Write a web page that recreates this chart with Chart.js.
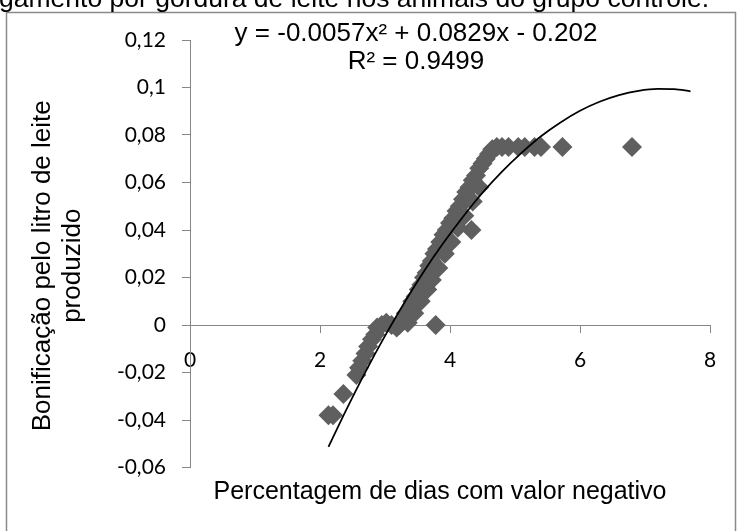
<!DOCTYPE html>
<html><head><meta charset="utf-8">
<script src="https://cdn.jsdelivr.net/npm/chart.js@4.4.0/dist/chart.umd.min.js"></script>
<style>html,body{margin:0;padding:0;background:#fff;}#wrap{position:relative;width:737px;height:531px;overflow:hidden;}canvas{display:block;}</style>
</head><body><div id="wrap"><canvas id="c" width="737" height="531"></canvas></div>
<script>
const pointX = [2.13,2.2,2.36,2.56,2.6,2.65,2.7,2.74,2.8,2.85,2.88,2.95,3.02,3.1,3.18,3.22,3.28,3.32,3.38,3.42,3.47,3.52,3.56,3.6,3.64,3.68,3.72,3.76,3.8,3.85,3.9,3.95,4.0,4.05,4.1,4.15,4.2,4.25,4.3,4.35,4.4,4.45,4.5,4.55,4.6,4.65,4.72,4.8,4.9,5.05,5.15,5.3,5.4,5.73,6.8,3.78,4.33,3.35,3.45,3.55,3.65,3.72,3.82,3.92,4.02,4.12,4.22,4.35,4.45];
const pointY = [-0.038,-0.038,-0.029,-0.021,-0.018,-0.015,-0.012,-0.009,-0.006,-0.004,-0.001,0,0.001,0,-0.001,0,0.002,0.005,0.007,0.01,0.012,0.015,0.017,0.02,0.022,0.025,0.027,0.03,0.032,0.035,0.038,0.04,0.043,0.045,0.048,0.05,0.053,0.056,0.058,0.061,0.063,0.066,0.068,0.07,0.072,0.074,0.075,0.075,0.075,0.075,0.075,0.075,0.075,0.075,0.075,0,0.04,0.001,0.005,0.01,0.015,0.019,0.024,0.03,0.035,0.041,0.046,0.052,0.058];
const trendX = [2.13,2.4,2.7,3.0,3.3,3.6,3.9,4.2,4.5,4.8,5.1,5.4,5.7,6.0,6.3,6.6,6.9,7.2,7.45,7.7];
const trendY = [-0.0513,-0.0359,-0.0197,-0.0046,0.0095,0.0226,0.0346,0.0456,0.0557,0.0646,0.0725,0.0795,0.0853,0.0902,0.0940,0.0968,0.0986,0.0994,0.0993,0.0984];
const xTickValues = [0,2,4,6,8];
const yTickValues = [-0.06,-0.04,-0.02,0,0.02,0.04,0.06,0.08,0.1,0.12];
const topCaption = 'gamento por gordura de leite nos animais do grupo controle.';
const equationLines = ['y = -0.0057x\u00B2 + 0.0829x - 0.202', 'R\u00B2 = 0.9499'];
const xTitleText = 'Percentagem de dias com valor negativo';
const yTitleLines = ['Bonificação pelo litro de leite', 'produzido'];

const axisGray = '#868686';
const tickFont = {family: 'Lato', size: 21};
const titleFamily = 'Liberation Sans';

const decor = {
  id: 'decor',
  beforeDraw(chart) {
    const ctx = chart.ctx;
    ctx.save();
    ctx.fillStyle = '#fff';
    ctx.fillRect(0, 0, chart.width, chart.height);
    ctx.strokeStyle = '#8a8a8a';
    ctx.lineWidth = 1.5;
    ctx.strokeRect(6.5, 12.5, chart.width - 8, chart.height + 20);
    ctx.fillStyle = '#000';
    ctx.font = '26.5px "' + titleFamily + '"';
    ctx.textAlign = 'left';
    ctx.textBaseline = 'alphabetic';
    ctx.fillText(topCaption, -1, 7);
    ctx.restore();
  },
  afterDraw(chart) {
    const ctx = chart.ctx;
    const a = chart.chartArea;
    ctx.save();
    ctx.fillStyle = '#000';
    ctx.textAlign = 'center';
    ctx.textBaseline = 'middle';
    ctx.font = '26px "' + titleFamily + '"';
    ctx.fillText(equationLines[0], 416, 34);
    ctx.fillText(equationLines[1], 416, 62);
    ctx.font = '25px "' + titleFamily + '"';
    ctx.fillText(xTitleText, a.left + (a.right - a.left) / 2 - 10, 492);
    ctx.font = '26px "' + titleFamily + '"';
    const cy = (a.top + a.bottom) / 2 + 12;
    ctx.save(); ctx.translate(43, cy); ctx.rotate(-Math.PI / 2); ctx.fillText(yTitleLines[0], 0, 0); ctx.restore();
    ctx.save(); ctx.translate(73, cy); ctx.rotate(-Math.PI / 2); ctx.fillText(yTitleLines[1], 0, 0); ctx.restore();
    ctx.restore();
  }
};

const fmt = v => String(Math.round(v * 100) / 100).replace('.', ',');

new Chart(document.getElementById('c'), {
  type: 'scatter',
  data: {
    datasets: [
      {
        data: pointX.map((x, i) => ({x, y: pointY[i]})),
        pointStyle: 'rectRot', pointRadius: 10, pointHoverRadius: 10,
        backgroundColor: '#5f5f5f', borderWidth: 0, order: 2
      },
      {
        data: trendX.map((x, i) => ({x, y: trendY[i]})),
        showLine: true, pointRadius: 0, borderColor: '#000', borderWidth: 1.75,
        cubicInterpolationMode: 'monotone', fill: false, order: 1
      }
    ]
  },
  options: {
    responsive: false, animation: false, devicePixelRatio: 1,
    layout: {padding: {top: 40, right: 27, bottom: 63.5, left: 0}},
    plugins: {legend: {display: false}, tooltip: {enabled: false}, title: {display: false}},
    scales: {
      x: {
        type: 'linear', position: {y: 0}, min: 0, max: 8,
        afterBuildTicks: s => { s.ticks = xTickValues.map(v => ({value: v})); },
        afterFit: s => { s.height = 0; },
        grid: {drawOnChartArea: false, drawTicks: true, tickLength: 7, color: axisGray},
        border: {color: axisGray, width: 1},
        ticks: {font: tickFont, color: '#000', padding: 16, maxRotation: 0, autoSkip: false, callback: v => fmt(v)}
      },
      y: {
        type: 'linear', position: 'left', min: -0.06, max: 0.12,
        afterBuildTicks: s => { s.ticks = yTickValues.map(v => ({value: v})); },
        afterFit: s => { s.width = 190; },
        grid: {drawOnChartArea: false, drawTicks: true, tickLength: 8, color: axisGray},
        border: {color: axisGray, width: 1},
        ticks: {font: tickFont, color: '#000', padding: 16, autoSkip: false, callback: v => fmt(v)}
      }
    }
  },
  plugins: [decor]
});
</script></body></html>
